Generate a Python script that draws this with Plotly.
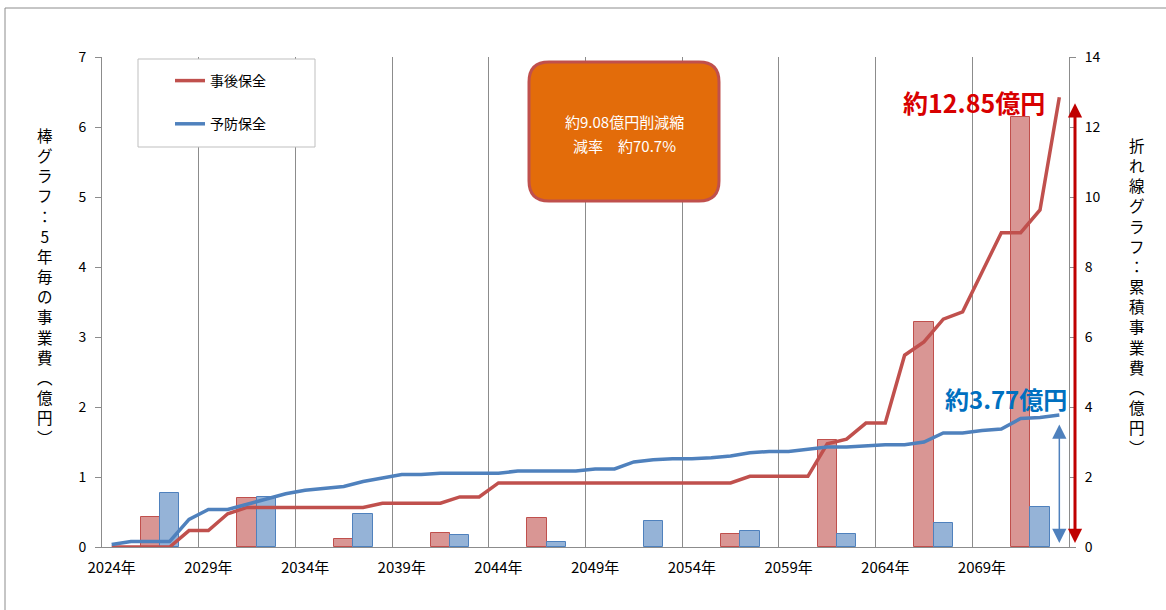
import plotly.graph_objects as go

# ---------------- data ----------------
years = list(range(2024, 2074))
categories = [f"{y}年" for y in years]

bar_years_jigo = [2026, 2031, 2036, 2041, 2046, 2051, 2056, 2061, 2066, 2071]
bar_jigo = [0.43, 0.70, 0.11, 0.20, 0.42, 0.0, 0.18, 1.53, 3.21, 6.14]

bar_years_yobo = [2027, 2032, 2037, 2042, 2047, 2052, 2057, 2062, 2067, 2072]
bar_yobo = [0.77, 0.71, 0.47, 0.17, 0.07, 0.37, 0.23, 0.18, 0.35, 0.57]

cum_jigo = [0, 0, 0, 0, 0.47, 0.47, 0.95,
            1.13, 1.13, 1.13, 1.13, 1.13, 1.13, 1.13,
            1.25, 1.25, 1.25, 1.25, 1.43, 1.43,
            1.83, 1.83, 1.83, 1.83, 1.83, 1.83, 1.83, 1.83, 1.83, 1.83, 1.83, 1.83, 1.83,
            2.02, 2.02, 2.02, 2.02, 2.95, 3.08, 3.54, 3.54,
            5.48, 5.86, 6.51, 6.72, 7.85, 8.98, 8.98, 9.63, 12.85]

cum_yobo = [0.07, 0.16, 0.16, 0.16, 0.79, 1.07, 1.07, 1.22, 1.38, 1.52,
            1.62, 1.68, 1.73, 1.87, 1.97, 2.07, 2.07, 2.11, 2.11, 2.11,
            2.11, 2.17, 2.17, 2.17, 2.17, 2.23, 2.23, 2.43, 2.49, 2.52,
            2.52, 2.55, 2.60, 2.69, 2.73, 2.73, 2.80, 2.86, 2.86, 2.90,
            2.92, 2.92, 3.00, 3.26, 3.26, 3.33, 3.37, 3.67, 3.70, 3.77]

series_names = ["事後保全", "予防保全"]
total_jigo_label = "約12.85億円"
total_yobo_label = "約3.77億円"
box_lines = ["約9.08億円削減縮", "減率　約70.7%"]
left_title = "棒グラフ：5年毎の事業費︵億円︶"
right_title = "折れ線グラフ：累積事業費︵億円︶"

# ---------------- layout helpers ----------------
W, H = 1166, 610
L, R, T, B = 102, 97, 57, 63
PW, PH = W - L - R, H - T - B


def px(x):
    return (x - L) / PW


def py(y):
    return (H - B - y) / PH


FONT = "Noto Sans CJK JP"
RED = "#C0504D"
BLUE = "#4F81BD"

fig = go.Figure()

jx = [f"{y}年" for y, v in zip(bar_years_jigo, bar_jigo) if v > 0]
jy = [v for v in bar_jigo if v > 0]
fig.add_trace(go.Bar(
    x=jx, y=jy, yaxis="y",
    marker=dict(color="#D99694", line=dict(color=RED, width=1)),
    showlegend=False, name=series_names[0] + "（5年毎）"))
yx = [f"{y}年" for y, v in zip(bar_years_yobo, bar_yobo) if v > 0]
yy = [v for v in bar_yobo if v > 0]
fig.add_trace(go.Bar(
    x=yx, y=yy, yaxis="y",
    marker=dict(color="#95B3D7", line=dict(color=BLUE, width=1)),
    showlegend=False, name=series_names[1] + "（5年毎）"))

fig.add_trace(go.Scatter(
    x=categories, y=cum_jigo, yaxis="y2", mode="lines", name=series_names[0],
    line=dict(color=RED, width=3.5), legendgroup="a"))
fig.add_trace(go.Scatter(
    x=categories, y=cum_yobo, yaxis="y2", mode="lines", name=series_names[1],
    line=dict(color=BLUE, width=3.5), legendgroup="b"))

shapes = []
# outer frame
shapes.append(dict(type="rect", xref="paper", yref="paper",
                   x0=px(5), x1=px(1175), y0=py(620), y1=py(8),
                   line=dict(color="#8C8C8C", width=1), layer="below"))
# legend box
shapes.append(dict(type="rect", xref="paper", yref="paper",
                   x0=px(138), x1=px(315), y0=py(147), y1=py(59),
                   line=dict(color="#BFBFBF", width=1), fillcolor="white", layer="above"))
# orange rounded box
x0, x1, y0, y1, r = 529, 719, 62, 201, 20
path = (f"M{px(x0 + r)},{py(y0)} L{px(x1 - r)},{py(y0)} Q{px(x1)},{py(y0)} {px(x1)},{py(y0 + r)} "
        f"L{px(x1)},{py(y1 - r)} Q{px(x1)},{py(y1)} {px(x1 - r)},{py(y1)} "
        f"L{px(x0 + r)},{py(y1)} Q{px(x0)},{py(y1)} {px(x0)},{py(y1 - r)} "
        f"L{px(x0)},{py(y0 + r)} Q{px(x0)},{py(y0)} {px(x0 + r)},{py(y0)} Z")
shapes.append(dict(type="path", xref="paper", yref="paper", path=path,
                   fillcolor="#E36C0A", line=dict(color=RED, width=3), layer="above"))

annotations = []
annotations.append(dict(xref="paper", yref="paper", x=px(624), y=py(121),
                        xanchor="center", yanchor="middle",
                        text=box_lines[0], showarrow=False,
                        font=dict(family=FONT, size=15, color="white")))
annotations.append(dict(xref="paper", yref="paper", x=px(624), y=py(145),
                        xanchor="center", yanchor="middle",
                        text=box_lines[1], showarrow=False,
                        font=dict(family=FONT, size=15, color="white")))
# totals
annotations.append(dict(xref="paper", yref="paper", x=px(1047), y=py(102),
                        xanchor="right", yanchor="middle",
                        text=f"<b>{total_jigo_label}</b>", showarrow=False,
                        font=dict(family=FONT, size=25, color="#D80000")))
annotations.append(dict(xref="paper", yref="paper", x=px(1069), y=py(398),
                        xanchor="right", yanchor="middle",
                        text=f"<b>{total_yobo_label}</b>", showarrow=False,
                        font=dict(family=FONT, size=24, color="#0070C0")))
# arrows
annotations.append(dict(xref="paper", yref="y2", x=px(1075), y=cum_jigo[-1] - 0.17,
                        axref="pixel", ax=0, ayref="y2", ay=0.07, text="",
                        showarrow=True, arrowside="end+start", arrowhead=2, startarrowhead=2,
                        arrowwidth=3, arrowsize=0.95, startarrowsize=0.95, arrowcolor="#C00000"))
annotations.append(dict(xref="x", yref="y2", x=categories[-1], y=cum_yobo[-1] - 0.27,
                        axref="pixel", ax=0, ayref="y2", ay=0.07, text="",
                        showarrow=True, arrowside="end+start", arrowhead=2, startarrowhead=2,
                        arrowwidth=1.5, arrowsize=1.9, startarrowsize=1.9, arrowcolor=BLUE))
# vertical axis titles
annotations.append(dict(xref="paper", yref="paper", x=px(45), y=py(286),
                        xanchor="center", yanchor="middle",
                        text="<br>".join(list(left_title)), showarrow=False,
                        font=dict(family=FONT, size=15.5, color="black")))
annotations.append(dict(xref="paper", yref="paper", x=px(1137), y=py(296),
                        xanchor="center", yanchor="middle",
                        text="<br>".join(list(right_title)), showarrow=False,
                        font=dict(family=FONT, size=15.5, color="black")))

fig.update_layout(
    width=W, height=H,
    margin=dict(l=L, r=R, t=T, b=B, autoexpand=False),
    paper_bgcolor="white", plot_bgcolor="white",
    font=dict(family=FONT, size=14, color="black"),
    barmode="overlay", bargap=0,
    xaxis=dict(type="category", categoryorder="array", categoryarray=categories,
               range=[-0.5, len(categories) - 0.5],
               tickmode="linear", tick0=0, dtick=5, tickson="boundaries",
               tickangle=0,
               showgrid=True, gridcolor="#8C8C8C", gridwidth=1,
               showline=True, linecolor="#8C8C8C", linewidth=1,
               ticks="", ticklabelstandoff=7, tickfont=dict(size=15)),
    yaxis=dict(range=[0, 7], dtick=1, showgrid=False, zeroline=False,
               showline=True, linecolor="#8C8C8C", linewidth=1,
               ticks="outside", ticklen=6, tickcolor="#8C8C8C",
               ticklabelstandoff=6, tickfont=dict(size=14)),
    yaxis2=dict(range=[0, 14], dtick=2, overlaying="y", side="right",
                showgrid=False, zeroline=False,
                showline=True, linecolor="#8C8C8C", linewidth=1,
                ticks="outside", ticklen=6, tickcolor="#8C8C8C",
                ticklabelstandoff=6, tickfont=dict(size=14)),
    legend=dict(x=px(170), y=py(65), xanchor="left", yanchor="top",
                bgcolor="rgba(0,0,0,0)", borderwidth=0,
                font=dict(family=FONT, size=14), tracegroupgap=22,
                itemwidth=30),
    shapes=shapes, annotations=annotations,
)

fig.write_html("out.html", config={"displayModeBar": False},
               post_script="document.body.style.margin='0';document.body.style.overflow='hidden';")
